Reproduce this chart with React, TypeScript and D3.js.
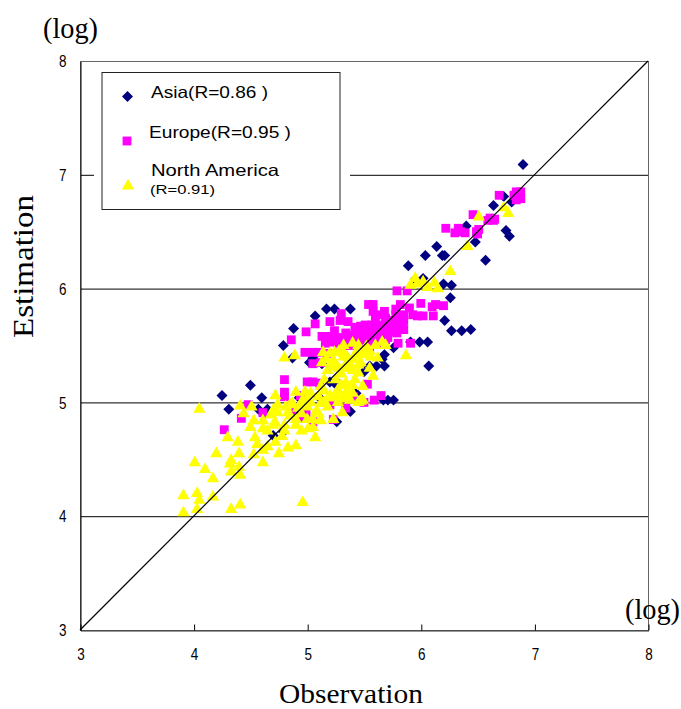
import * as d3 from "d3";
import React, { useRef, useEffect } from "react";

const width = 681;
const height = 709;

const tickValues = [3, 4, 5, 6, 7, 8];
const gridValues = [4, 5, 6, 7];
const diagonal = [3, 8];

const asia = [
  [6.9, 7.09], [6.73, 6.81], [6.8, 6.76], [6.64, 6.73], [6.4, 6.55], [6.48, 6.41], [6.75, 6.51], [6.78, 6.46],
  [6.14, 6.37], [6.04, 6.29], [6.19, 6.29], [6.21, 6.29], [6.57, 6.25], [5.89, 6.2], [6.2, 6.04], [6.27, 6.03],
  [5.95, 6.08], [6.02, 6.09], [6.26, 5.92], [6.21, 5.72], [6.27, 5.63], [6.36, 5.63], [6.44, 5.64], [6.06, 5.53],
  [5.99, 5.53], [5.91, 5.53], [6.07, 5.32], [5.17, 5.82], [5.24, 5.82], [5.38, 5.82], [5.07, 5.76], [4.88, 5.65],
  [4.79, 5.5], [5.76, 5.48], [5.68, 5.42], [5.66, 5.38], [5.61, 5.32], [5.68, 5.32], [5.55, 5.32], [5.02, 5.35],
  [5.05, 5.39], [4.87, 5.39], [4.5, 5.15], [4.6, 5.04], [5.26, 5.18], [5.2, 5.18], [5.71, 5.02], [5.76, 5.02],
  [5.67, 5.02], [4.25, 5.06], [4.31, 4.94], [4.57, 4.94], [4.65, 4.94], [5.38, 4.92], [5.26, 4.83], [4.79, 4.74],
  [4.7, 4.71], [5.13, 5.34], [5.1, 5.05], [5.24, 5.17], [4.62, 4.9], [4.93, 5.04], [5.43, 5.08], [5.5, 5.27],
];

const europe = [
  [6.84, 6.85], [6.88, 6.85], [6.82, 6.82], [6.87, 6.8], [6.84, 6.78], [6.88, 6.79], [6.69, 6.82], [6.46, 6.65],
  [6.61, 6.62], [6.65, 6.61], [6.59, 6.6], [6.64, 6.6], [6.22, 6.53], [6.3, 6.49], [6.35, 6.5], [6.39, 6.49],
  [6.33, 6.53], [6.49, 6.5], [6.51, 6.52], [6.5, 6.48], [5.79, 5.98], [5.88, 5.98], [5.58, 5.86], [5.82, 5.86],
  [6.0, 5.87], [5.78, 5.82], [5.9, 5.83], [6.13, 5.86], [6.2, 5.85], [6.1, 5.84], [5.97, 5.76], [6.02, 5.76],
  [6.11, 5.76], [5.93, 5.77], [5.85, 5.77], [5.8, 5.52], [5.91, 5.52], [5.6, 5.74], [5.64, 5.77], [5.69, 5.74],
  [5.73, 5.72], [5.78, 5.72], [5.82, 5.71], [5.57, 5.68], [5.63, 5.68], [5.69, 5.68], [5.75, 5.67], [5.8, 5.65],
  [5.85, 5.64], [5.54, 5.64], [5.6, 5.62], [5.66, 5.62], [5.73, 5.62], [5.79, 5.61], [5.84, 5.66], [5.51, 5.59],
  [5.57, 5.57], [5.64, 5.57], [5.71, 5.57], [5.49, 5.55], [5.54, 5.51], [5.61, 5.52], [5.69, 5.55], [5.78, 5.77],
  [5.85, 5.72], [4.86, 5.55], [4.99, 5.62], [5.07, 5.69], [5.2, 5.71], [5.3, 5.78], [5.29, 5.72], [5.36, 5.71],
  [5.42, 5.66], [5.51, 5.68], [5.54, 5.86], [5.13, 5.58], [5.16, 5.58], [5.16, 5.52], [5.23, 5.58], [5.27, 5.57],
  [5.34, 5.61], [5.4, 5.59], [5.45, 5.61], [5.49, 5.62], [4.98, 5.44], [5.05, 5.44], [5.1, 5.44], [5.05, 5.34],
  [5.12, 5.35], [5.18, 5.43], [5.27, 5.52], [5.34, 5.55], [5.41, 5.55], [5.49, 5.57], [4.8, 5.2], [4.8, 5.09],
  [4.8, 5.05], [5.0, 5.18], [5.05, 5.18], [5.11, 5.17], [5.53, 5.16], [5.65, 5.06], [5.59, 5.02], [5.5, 5.0],
  [5.41, 5.05], [4.27, 4.76], [4.42, 4.86], [4.48, 4.98], [4.61, 4.91], [4.96, 4.86], [4.99, 4.91], [5.23, 4.85],
  [5.05, 4.83], [4.94, 5.06], [4.9, 4.93], [5.2, 4.98], [5.34, 4.95], [5.3, 5.5], [5.2, 5.53], [5.24, 5.63],
  [5.38, 5.5], [5.45, 5.53], [5.55, 5.46], [5.47, 5.67], [5.58, 5.8], [5.68, 5.8],
];

const northAmerica = [
  [4.05, 4.94], [4.41, 4.97], [4.51, 4.96], [4.72, 5.06], [4.9, 5.09], [4.44, 4.9], [4.53, 4.84], [4.61, 4.84],
  [4.5, 4.78], [4.61, 4.77], [4.72, 4.82], [4.74, 4.91], [4.81, 4.96], [4.87, 4.99], [4.9, 4.8], [5.01, 4.77],
  [5.05, 4.78], [5.05, 4.85], [5.12, 4.84], [5.23, 4.85], [5.31, 4.91], [5.47, 5.01], [5.38, 5.02], [5.07, 4.69],
  [4.78, 4.7], [4.72, 4.65], [4.54, 4.69], [4.56, 4.63], [4.65, 4.61], [4.83, 4.6], [4.9, 4.62], [4.75, 4.55],
  [4.61, 4.58], [4.53, 4.54], [4.61, 4.47], [4.4, 4.55], [4.39, 4.65], [4.3, 4.69], [4.2, 4.55], [4.33, 4.49],
  [4.32, 4.46], [4.4, 4.43], [4.33, 4.39], [4.41, 4.36], [4.1, 4.41], [4.01, 4.47], [4.17, 4.33], [3.91, 4.18],
  [4.03, 4.2], [4.05, 4.14], [4.17, 4.17], [4.03, 4.06], [3.91, 4.03], [4.33, 4.06], [4.41, 4.1], [4.96, 4.12],
  [4.8, 5.39], [4.89, 5.41], [5.14, 5.44], [5.13, 5.35], [5.24, 5.44], [5.32, 5.5], [5.4, 5.52], [5.45, 5.5],
  [5.52, 5.49], [5.6, 5.5], [5.66, 5.53], [5.69, 5.5], [5.56, 5.4], [5.62, 5.39], [5.87, 5.41], [5.49, 5.42],
  [5.42, 5.42], [5.32, 5.4], [5.23, 5.37], [5.22, 5.31], [5.34, 5.3], [5.38, 5.33], [5.47, 5.35], [5.45, 5.26],
  [5.58, 5.23], [5.34, 5.17], [5.4, 5.15], [5.49, 5.14], [5.27, 5.11], [5.2, 5.06], [5.12, 5.14], [5.03, 5.08],
  [4.98, 5.09], [4.96, 5.02], [5.03, 5.0], [5.19, 5.04], [5.34, 5.05], [5.45, 5.0], [5.49, 5.02], [5.27, 5.0],
  [4.74, 4.98], [4.85, 4.98], [5.18, 4.96], [5.12, 4.99], [5.0, 4.96], [4.92, 4.95], [4.83, 4.91], [4.68, 4.89],
  [4.7, 4.93], [5.27, 5.1], [5.32, 5.43], [5.44, 5.43], [5.23, 5.35], [5.35, 5.35], [5.45, 5.33], [6.77, 6.66],
  [6.73, 6.71], [6.51, 6.63], [6.41, 6.37], [6.26, 6.15], [5.95, 6.09], [5.91, 6.03], [6.02, 6.06], [6.12, 6.05],
  [6.06, 6.01], [6.15, 6.0], [5.97, 6.04], [5.25, 5.2], [5.3, 5.25], [5.15, 5.2], [5.08, 4.92], [4.95, 4.9],
  [5.1, 5.05], [5.15, 5.1], [5.25, 5.05], [5.3, 5.15], [5.1, 4.9], [5.15, 5.0], [5.0, 5.03], [4.95, 4.97],
  [4.85, 4.88], [4.8, 4.8], [4.9, 4.85], [4.95, 4.75], [4.8, 4.75], [4.65, 4.75], [4.7, 4.8], [5.0, 4.85],
  [5.35, 5.1], [5.3, 5.03], [5.4, 5.08], [5.42, 5.2], [5.28, 5.3], [5.35, 5.4], [5.5, 5.45], [5.55, 5.45],
  [5.28, 5.45], [5.2, 5.43], [5.17, 5.38], [5.18, 5.28], [5.4, 5.28], [5.4, 5.38], [5.55, 5.3],
];

const SERIF = "'Liberation Serif', serif";
const SANS = "'Liberation Sans', sans-serif";

export default function App() {
  const ref = useRef(null);

  useEffect(() => {
    const svg = d3.select(ref.current);
    svg.selectAll("*").remove();

    const x = d3.scaleLinear().domain([3, 8]).range([80, 648]);
    const y = d3.scaleLinear().domain([3, 8]).range([630, 61]);

    // gridlines, then the box
    svg.append("g").selectAll("line").data(gridValues).join("line")
      .attr("x1", x(3)).attr("x2", x(8))
      .attr("y1", d => y(d) + 0.5).attr("y2", d => y(d) + 0.5)
      .attr("stroke", "#000");

    svg.append("rect")
      .attr("x", 80.5).attr("y", 61.5)
      .attr("width", 568).attr("height", 569)
      .attr("fill", "none").attr("stroke", "#666");

    // narrow digits like the original's font
    const styleTicks = axis => {
      axis.selectAll("text")
        .attr("font-family", SANS).attr("font-size", 16).attr("fill", "#000")
        .attr("textLength", 7.5).attr("lengthAdjust", "spacingAndGlyphs");
    };

    // bottom axis, ticks point up into the plot
    const xAxis = svg.append("g")
      .attr("transform", `translate(0.5,${y(3) + 0.5})`)
      .call(d3.axisBottom(x).tickValues(tickValues).tickSize(-6).tickSizeOuter(0).tickPadding(18).tickFormat(d3.format("d")));
    xAxis.select(".domain").attr("stroke", "#333");
    styleTicks(xAxis);

    const yAxis = svg.append("g")
      .attr("transform", `translate(${x(3) + 0.5},0.5)`)
      .call(d3.axisLeft(y).tickValues(tickValues).tickSize(0).tickPadding(14).tickFormat(d3.format("d")));
    yAxis.select(".domain").attr("stroke", "#000");
    styleTicks(yAxis);

    const diamond = d3.symbol().type(d3.symbolSquare).size(60)();
    const square = d3.symbol().type(d3.symbolSquare).size(78)();
    const triangle = d3.symbol().type(d3.symbolTriangle).size(66)();

    const points = (data, path, color, rotate) =>
      svg.append("g").selectAll("path").data(data).join("path")
        .attr("d", path)
        .attr("fill", color)
        .attr("transform", d => `translate(${x(d[0])},${y(d[1])}) rotate(${rotate})`);

    points(asia, diamond, "#000080", 45);
    points(europe, square, "#ff00ff", 0);
    points(northAmerica, triangle, "#ffff00", 0);

    svg.append("line")
      .attr("x1", x(diagonal[0])).attr("y1", y(diagonal[0]))
      .attr("x2", x(diagonal[1])).attr("y2", y(diagonal[1]))
      .attr("stroke", "#000").attr("stroke-width", 1.2);

    // legend sits on a white patch wider than its frame
    svg.append("rect").attr("x", 94).attr("y", 66).attr("width", 256).attr("height", 150).attr("fill", "#fff");
    svg.append("rect")
      .attr("x", 102).attr("y", 72.5).attr("width", 238).attr("height", 137)
      .attr("fill", "#fff").attr("stroke", "#222");

    svg.append("path").attr("d", diamond).attr("fill", "#000080")
      .attr("transform", "translate(127.5,96.5) rotate(45)");
    svg.append("path").attr("d", square).attr("fill", "#ff00ff")
      .attr("transform", "translate(127,141)");
    svg.append("path").attr("d", triangle).attr("fill", "#ffff00")
      .attr("transform", "translate(128,186)");

    const label = (text, lx, ly, size, font, len) =>
      svg.append("text").attr("x", lx).attr("y", ly)
        .attr("font-family", font).attr("font-size", size).attr("fill", "#000")
        .attr("textLength", len).attr("lengthAdjust", "spacingAndGlyphs")
        .text(text);

    label("Asia(R=0.86 )", 151, 98, 16.5, SANS, 117);
    label("Europe(R=0.95 )", 149, 138, 16.5, SANS, 142);
    label("North America", 151, 176, 16.5, SANS, 128);
    label("(R=0.91)", 150, 194, 13.5, SANS, 65);

    label("(log)", 43, 38, 29, SERIF, 55);
    label("(log)", 625, 619, 29, SERIF, 55);
    label("Observation", 279, 703, 28, SERIF, 144);

    svg.append("text")
      .attr("transform", "translate(33,338) rotate(-90)")
      .attr("font-family", SERIF).attr("font-size", 30).attr("fill", "#000")
      .attr("textLength", 143).attr("lengthAdjust", "spacingAndGlyphs")
      .text("Estimation");
  }, []);

  return <svg ref={ref} width={width} height={height} style={{ position: "absolute", left: 0, top: 0, background: "#fff" }} />;
}
